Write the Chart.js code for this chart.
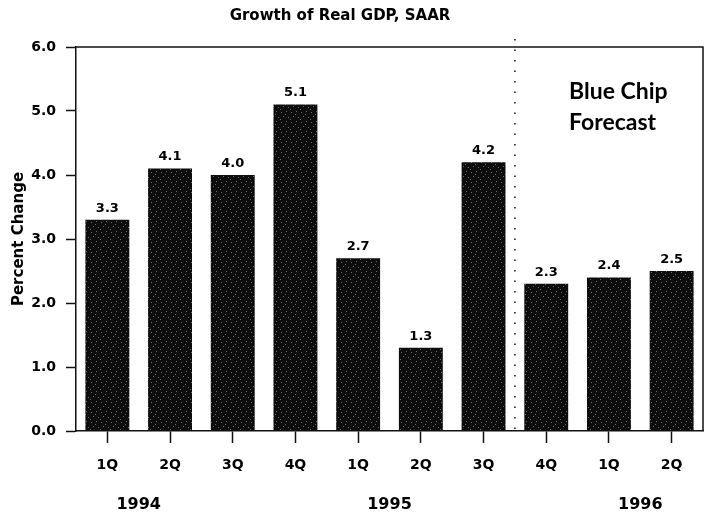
<!DOCTYPE html>
<html>
<head>
<meta charset="utf-8">
<script src="https://cdn.jsdelivr.net/npm/chart.js@4/dist/chart.umd.min.js"></script>
<style>
  html, body { margin: 0; padding: 0; background: #fff; }
  #wrap { width: 704px; height: 519px; }
</style>
</head>
<body>
<div id="wrap"><canvas id="gdp"></canvas></div>
<script>
// Chart data
var quarters = ['1Q', '2Q', '3Q', '4Q', '1Q', '2Q', '3Q', '4Q', '1Q', '2Q'];
var growth = [3.3, 4.1, 4.0, 5.1, 2.7, 1.3, 4.2, 2.3, 2.4, 2.5];
var years = ['1994', '1995', '1996'];
var yearStart = [0, 4, 8];        // first quarter index of each year
var forecastStart = 7;            // index where the Blue Chip forecast begins
var yTicks = [0, 1, 2, 3, 4, 5, 6];

var FONT = '"DejaVu Sans", sans-serif';
var NOTE_FONT = 'Lato, "DejaVu Sans", sans-serif';

// stippled dark fill like the scanned bars
function makeStipple() {
    var c = document.createElement('canvas');
    c.width = 10; c.height = 10;
    var g = c.getContext('2d');
    g.fillStyle = '#0d0d0d';
    g.fillRect(0, 0, 10, 10);
    g.fillStyle = '#6a6a6a';
    var dots = [[1, 2], [6, 1], [3, 6], [8, 7], [5, 4], [0, 9]];
    dots.forEach(function (d) { g.fillRect(d[0], d[1], 1, 1); });
    return g.createPattern(c, 'repeat');
}

// value labels, frame, dotted divider, years and annotation
var extras = {
    id: 'extras',
    afterDatasetsDraw: function (chart) {
        var ctx = chart.ctx;
        var area = chart.chartArea;
        var xs = chart.scales.x;
        var meta = chart.getDatasetMeta(0);

        ctx.save();
        // frame top and right
        ctx.strokeStyle = '#111';
        ctx.lineWidth = 1.5;
        ctx.beginPath();
        ctx.moveTo(area.left, area.top);
        ctx.lineTo(area.right, area.top);
        ctx.lineTo(area.right, area.bottom);
        ctx.stroke();

        // dotted forecast divider
        var dx = (xs.getPixelForValue(forecastStart - 1) + xs.getPixelForValue(forecastStart)) / 2;
        ctx.setLineDash([1.5, 9]);
        ctx.lineWidth = 1.5;
        ctx.beginPath();
        ctx.moveTo(dx, area.top - 8);
        ctx.lineTo(dx, area.bottom);
        ctx.stroke();
        ctx.setLineDash([]);

        // values over bars
        ctx.fillStyle = '#000';
        ctx.font = 'bold 13px ' + FONT;
        ctx.textAlign = 'center';
        ctx.textBaseline = 'bottom';
        meta.data.forEach(function (bar, i) {
            ctx.fillText(growth[i].toFixed(1), bar.x, bar.y - 5);
        });

        // year labels centred between first and second quarter
        ctx.font = 'bold 16px ' + FONT;
        ctx.textBaseline = 'middle';
        years.forEach(function (y, i) {
            var k = yearStart[i];
            var x = (xs.getPixelForValue(k) + xs.getPixelForValue(k + 1)) / 2;
            ctx.fillText(y, x, 505);
        });

        // annotation
        ctx.font = 'bold 23px ' + NOTE_FONT;
        ctx.textAlign = 'left';
        ctx.fillText('Blue Chip', 569, 92);
        ctx.fillText('Forecast', 569, 123);

        // title
        ctx.font = 'bold 15px ' + FONT;
        ctx.textAlign = 'center';
        ctx.fillText('Growth of Real GDP, SAAR', 340, 16);
        ctx.restore();
    }
};

var ctx = document.getElementById('gdp').getContext('2d');
var chart = new Chart(ctx, {
    type: 'bar',
    data: {
        labels: quarters,
        datasets: [{
            data: growth,
            backgroundColor: makeStipple(),
            borderWidth: 0,
            categoryPercentage: 1.0,
            barPercentage: 0.7
        }]
    },
    options: {
        responsive: true,
        maintainAspectRatio: false,
        animation: false,
        layout: { padding: { top: 47, right: 1, left: 10, bottom: 0 } },
        plugins: {
            legend: { display: false },
            tooltip: { enabled: false },
            title: { display: false }
        },
        scales: {
            x: {
                grid: {
                    display: true,
                    offset: false,
                    drawOnChartArea: false,
                    tickLength: 12,
                    tickColor: '#111',
                    tickWidth: 1.5
                },
                border: { color: '#111', width: 1.5 },
                ticks: {
                    color: '#000',
                    padding: 14,
                    font: { family: FONT, size: 14, weight: 'bold' }
                },
                afterFit: function (s) { s.height = 88; }
            },
            y: {
                min: 0,
                max: 6,
                afterBuildTicks: function (s) {
                    s.ticks = yTicks.map(function (v) { return { value: v }; });
                },
                grid: {
                    display: true,
                    drawOnChartArea: false,
                    tickLength: 10,
                    tickColor: '#111',
                    tickWidth: 1.5
                },
                border: { color: '#111', width: 1.5 },
                ticks: {
                    color: '#000',
                    padding: 10,
                    font: { family: FONT, size: 14, weight: 'bold' },
                    callback: function (v) { return Number(v).toFixed(1); }
                },
                title: {
                    display: true,
                    text: 'Percent Change',
                    color: '#000',
                    padding: 0,
                    font: { family: FONT, size: 15, weight: 'bold' }
                },
                afterFit: function (s) { s.width = 66; }
            }
        }
    },
    plugins: [extras]
});
</script>
</body>
</html>
